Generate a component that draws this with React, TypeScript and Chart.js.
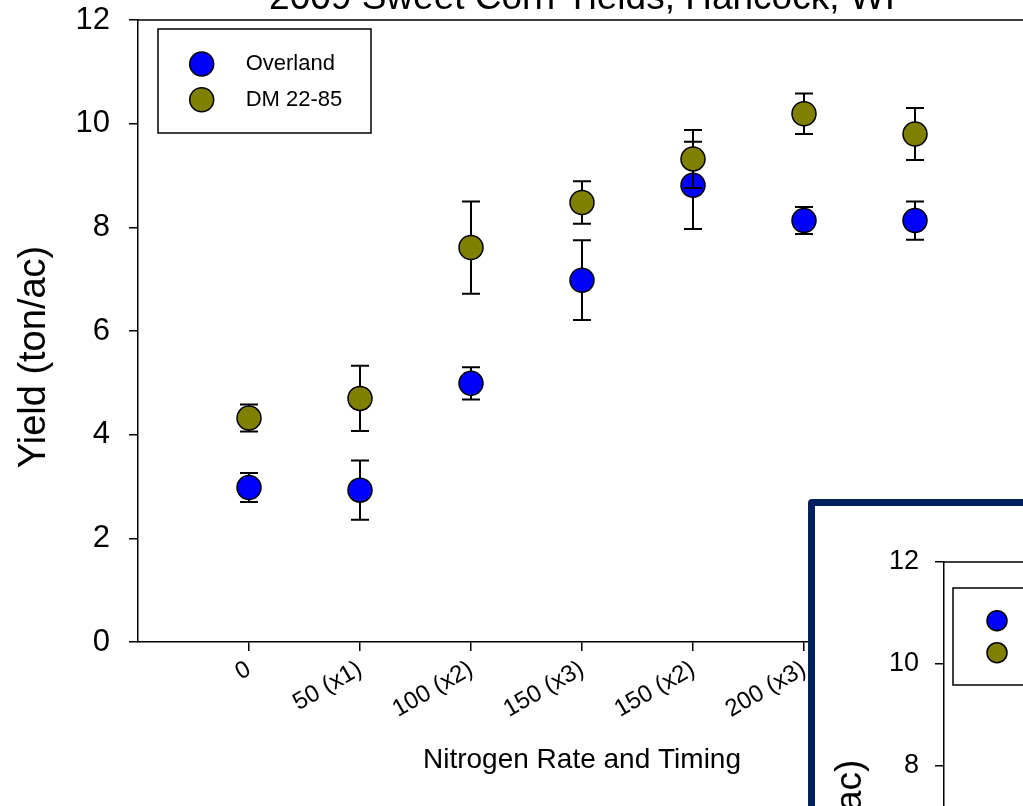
import React, { useEffect, useRef } from "react";
import { Chart, registerables } from "chart.js";

Chart.register(...registerables);

// ---- data ----
const categories = ["0", "50 (x1)", "100 (x2)", "150 (x3)", "150 (x2)", "200 (x3)", "200 (x2)"];
const overlandMean = [2.98, 2.93, 4.99, 6.98, 8.81, 8.13, 8.13];
const overlandErr = [0.28, 0.57, 0.31, 0.77, 0.84, 0.26, 0.37];
const dmMean = [4.32, 4.7, 7.61, 8.48, 9.32, 10.19, 9.8];
const dmErr = [0.26, 0.63, 0.89, 0.41, 0.56, 0.39, 0.5];
const yTicks = [0, 2, 4, 6, 8, 10, 12];
const seriesNames = ["Overland", "DM 22-85"];
const seriesColors = ["#0000ff", "#808000"];
const titleText = "2009 Sweet Corn Yields, Hancock, WI";
const xTitleText = "Nitrogen Rate and Timing";
const yTitleText = "Yield (ton/ac)";

const FONT = '"Liberation Sans", Arial, Helvetica, sans-serif';

type Cfg = {
  width: number;
  height: number;
  yAxisWidth: number;
  xAxisHeight: number;
  padTop: number;
  padRight: number;
  tickFont: number;
  tickPad: number;
  xTickFont: number;
  xTickPad: number;
  tickLen: number;
  pointR: number;
  errW: number;
  cap: number;
  legend: { dx: number; dy: number; w: number; h: number; row1: number; rowGap: number; markerDx: number; textDx: number; font: number; r: number };
  yTitle: { font: number; x: number; dy: number };
  xTitle: { font: number; y: number };
  title: { font: number; y: number };
};

const mainCfg: Cfg = {
  width: 1040,
  height: 806,
  yAxisWidth: 138,
  xAxisHeight: 164,
  padTop: 20,
  padRight: 14,
  tickFont: 31,
  tickPad: 19,
  xTickFont: 24,
  xTickPad: 4,
  tickLen: 9,
  pointR: 12,
  errW: 2,
  cap: 9,
  legend: { dx: 20, dy: 9, w: 213, h: 104, row1: 35, rowGap: 35.7, markerDx: 43.7, textDx: 87.7, font: 22, r: 12 },
  yTitle: { font: 38, x: 35, dy: 26 },
  xTitle: { font: 28, y: 760 },
  title: { font: 37, y: 9 },
};

const insetCfg: Cfg = {
  width: 1015,
  height: 760,
  yAxisWidth: 129,
  xAxisHeight: 92,
  padTop: 56,
  padRight: 14,
  tickFont: 27,
  tickPad: 16,
  xTickFont: 21,
  xTickPad: 3,
  tickLen: 9,
  pointR: 10.5,
  errW: 2,
  cap: 8,
  legend: { dx: 9, dy: 26, w: 190, h: 97, row1: 32.7, rowGap: 32, markerDx: 44, textDx: 82, font: 20, r: 10 },
  yTitle: { font: 37, x: 36, dy: 0 },
  xTitle: { font: 24, y: 740 },
  title: { font: 30, y: 36 },
};

function makeChart(canvas: HTMLCanvasElement, cfg: Cfg) {
  const errorsByDataset = [overlandErr, dmErr];

  const decor = {
    id: "decor",
    beforeDatasetDraw(chart: any, args: any) {
      const ctx = chart.ctx as CanvasRenderingContext2D;
      const yS = chart.scales.y;
      const ds = chart.data.datasets[args.index];
      const errs = errorsByDataset[args.index];
      ctx.save();
      ctx.strokeStyle = "#000";
      ctx.lineWidth = cfg.errW;
      args.meta.data.forEach((pt: any, i: number) => {
        const v = ds.data[i].y;
        const x = pt.x;
        const yt = yS.getPixelForValue(v + errs[i]);
        const yb = yS.getPixelForValue(v - errs[i]);
        ctx.beginPath();
        ctx.moveTo(x, yt);
        ctx.lineTo(x, yb);
        ctx.moveTo(x - cfg.cap, yt);
        ctx.lineTo(x + cfg.cap, yt);
        ctx.moveTo(x - cfg.cap, yb);
        ctx.lineTo(x + cfg.cap, yb);
        ctx.stroke();
      });
      ctx.restore();
    },
    afterDraw(chart: any) {
      const ctx = chart.ctx as CanvasRenderingContext2D;
      const a = chart.chartArea;
      ctx.save();
      // frame top & right
      ctx.strokeStyle = "#000";
      ctx.lineWidth = 1.5;
      ctx.beginPath();
      ctx.moveTo(a.left, a.top);
      ctx.lineTo(a.right, a.top);
      ctx.lineTo(a.right, a.bottom);
      ctx.stroke();

      // legend
      const L = cfg.legend;
      const x0 = a.left + L.dx;
      const y0 = a.top + L.dy;
      ctx.fillStyle = "#fff";
      ctx.fillRect(x0, y0, L.w, L.h);
      ctx.strokeRect(x0, y0, L.w, L.h);
      seriesNames.forEach((name, i) => {
        const cy = y0 + L.row1 + i * L.rowGap;
        ctx.beginPath();
        ctx.arc(x0 + L.markerDx, cy, L.r, 0, Math.PI * 2);
        ctx.fillStyle = seriesColors[i];
        ctx.fill();
        ctx.lineWidth = 1.5;
        ctx.strokeStyle = "#000";
        ctx.stroke();
        ctx.fillStyle = "#000";
        ctx.font = `${L.font}px ${FONT}`;
        ctx.textAlign = "left";
        ctx.textBaseline = "middle";
        ctx.fillText(name, x0 + L.textDx, cy);
      });

      const cx = (a.left + a.right) / 2;
      // title
      ctx.fillStyle = "#000";
      ctx.font = `${cfg.title.font}px ${FONT}`;
      ctx.textAlign = "center";
      ctx.textBaseline = "alphabetic";
      ctx.fillText(titleText, cx, cfg.title.y);

      // x title
      ctx.font = `${cfg.xTitle.font}px ${FONT}`;
      ctx.textBaseline = "middle";
      ctx.fillText(xTitleText, cx, cfg.xTitle.y);

      // y title
      ctx.translate(cfg.yTitle.x, (a.top + a.bottom) / 2 + cfg.yTitle.dy);
      ctx.rotate(-Math.PI / 2);
      ctx.font = `${cfg.yTitle.font}px ${FONT}`;
      ctx.textAlign = "center";
      ctx.textBaseline = "middle";
      ctx.fillText(yTitleText, 0, 0);
      ctx.restore();
    },
  };

  const toPoints = (arr: number[]) => arr.map((v, i) => ({ x: i, y: v }));

  return new Chart(canvas, {
    type: "scatter",
    data: {
      datasets: [
        {
          label: seriesNames[0],
          data: toPoints(overlandMean),
          backgroundColor: seriesColors[0],
          borderColor: "#000",
          borderWidth: 1.5,
          pointRadius: cfg.pointR,
          pointHoverRadius: cfg.pointR,
          order: 2,
        },
        {
          label: seriesNames[1],
          data: toPoints(dmMean),
          backgroundColor: seriesColors[1],
          borderColor: "#000",
          borderWidth: 1.5,
          pointRadius: cfg.pointR,
          pointHoverRadius: cfg.pointR,
          order: 1,
        },
      ],
    },
    options: {
      responsive: false,
      animation: false,
      devicePixelRatio: 1,
      layout: { padding: { top: cfg.padTop, right: cfg.padRight, left: 0, bottom: 0 } },
      plugins: {
        legend: { display: false },
        title: { display: false },
        tooltip: { enabled: false },
      },
      scales: {
        x: {
          type: "linear",
          min: -1,
          max: 7,
          afterBuildTicks: (s: any) => {
            s.ticks = categories.map((_, i) => ({ value: i }));
          },
          afterFit: (s: any) => {
            s.height = cfg.xAxisHeight;
            s.paddingLeft = 0;
            s.paddingRight = 0;
          },
          ticks: {
            autoSkip: false,
            minRotation: 30,
            maxRotation: 30,
            padding: cfg.xTickPad,
            color: "#000",
            font: { family: FONT, size: cfg.xTickFont },
            callback: (v: any) => categories[v] ?? "",
          },
          grid: { drawOnChartArea: false, drawTicks: true, tickLength: cfg.tickLen, color: "#000", lineWidth: 1.5 },
          border: { display: true, color: "#000", width: 1.5 },
        },
        y: {
          min: 0,
          max: 12,
          afterBuildTicks: (s: any) => {
            s.ticks = yTicks.map((v) => ({ value: v }));
          },
          afterFit: (s: any) => {
            s.width = cfg.yAxisWidth;
            s.paddingTop = 0;
            s.paddingBottom = 0;
          },
          ticks: {
            padding: cfg.tickPad,
            color: "#000",
            font: { family: FONT, size: cfg.tickFont },
          },
          grid: { drawOnChartArea: false, drawTicks: true, tickLength: cfg.tickLen, color: "#000", lineWidth: 1.5 },
          border: { display: true, color: "#000", width: 1.5 },
        },
      },
    },
    plugins: [decor],
  } as any);
}

export default function App() {
  const mainRef = useRef<HTMLCanvasElement>(null);
  const insetRef = useRef<HTMLCanvasElement>(null);

  useEffect(() => {
    const c1 = makeChart(mainRef.current!, mainCfg);
    const c2 = makeChart(insetRef.current!, insetCfg);
    return () => {
      c1.destroy();
      c2.destroy();
    };
  }, []);

  return (
    <div style={{ position: "fixed", left: 0, top: 0, width: 1023, height: 806, overflow: "hidden", background: "#fff" }}>
      <canvas
        ref={mainRef}
        width={mainCfg.width}
        height={mainCfg.height}
        style={{ position: "absolute", left: 0, top: 0, width: mainCfg.width, height: mainCfg.height }}
      />
      <div
        style={{
          position: "absolute",
          left: 808,
          top: 499,
          width: 600,
          height: 600,
          border: "7px solid #002060",
          borderRadius: 4,
          background: "#fff",
          overflow: "hidden",
        }}
      >
        <canvas
          ref={insetRef}
          width={insetCfg.width}
          height={insetCfg.height}
          style={{ position: "absolute", left: 0, top: 0, width: insetCfg.width, height: insetCfg.height }}
        />
      </div>
    </div>
  );
}
